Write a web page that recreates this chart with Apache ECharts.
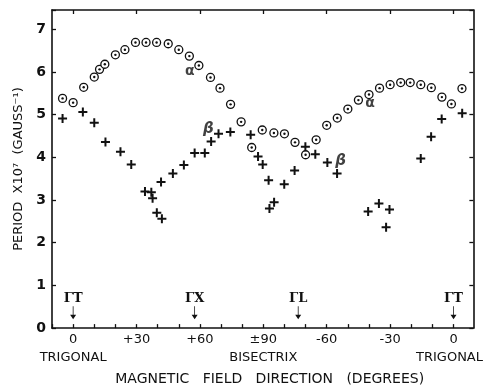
<!DOCTYPE html>
<html lang="en">
<head>
    <meta charset="UTF-8">
    <title>Period vs field direction</title>
    <style>
        html, body { margin: 0; padding: 0; background: #fff; }
    </style>
</head>
<body>
<div id="main" style="width: 494px;height:391px;"></div>

<script src="https://cdn.jsdelivr.net/npm/echarts@6/dist/echarts.min.js"></script>
<script>
    // alpha branch (circles)
    var alphaX = [-5, 0, 5, 10, 12.5, 15, 20, 24.5, 29.5, 34.5, 39.5, 45, 50, 55, 59.5, 65, 69.5, 74.5, 79.5,
        84.5, 89.5, 95, 100, 105, 110, 115, 120, 125, 130, 135, 140, 145, 150, 155, 159.5, 164.5, 169.5, 174.5, 179, 184];
    var alphaY = [5.38, 5.28, 5.64, 5.88, 6.06, 6.18, 6.40, 6.52, 6.69, 6.69, 6.69, 6.66, 6.52, 6.37, 6.15, 5.87, 5.62, 5.24, 4.83,
        4.23, 4.64, 4.57, 4.55, 4.35, 4.06, 4.41, 4.75, 4.92, 5.13, 5.34, 5.47, 5.62, 5.70, 5.75, 5.75, 5.70, 5.63, 5.41, 5.25, 5.61];

    // beta branch (crosses)
    var betaX = [-5, 4.6, 10, 15.3, 22.4, 27.5, 34, 37, 37.6, 39.6, 42, 41.6, 47.2, 52.4, 57.5, 62.3, 65.3, 68.8, 74.4,
        84, 87.5, 89.7, 92.5, 92.9, 95.1, 99.9, 104.8, 109.9, 114.6, 120.3, 124.9, 139.6, 144.7, 149.7, 148.1,
        164.5, 169.4, 174.4, 184.1];
    var betaY = [4.91, 5.06, 4.81, 4.36, 4.13, 3.83, 3.20, 3.18, 3.04, 2.70, 2.56, 3.42, 3.62, 3.82, 4.10, 4.10, 4.37, 4.55, 4.59,
        4.53, 4.02, 3.83, 3.46, 2.80, 2.95, 3.37, 3.69, 4.25, 4.07, 3.88, 3.62, 2.73, 2.92, 2.78, 2.36,
        3.97, 4.48, 4.90, 5.03];

    // tick labels (position 0..180 along the rotation)
    var tickPos = [0, 30, 60, 90, 120, 150, 180];
    var tickText = ['0', '+30', '+60', '\u00b190', '-60', '-30', '0'];
    var tickSub = ['TRIGONAL', '', '', 'BISECTRIX', '', '', 'TRIGONAL'];

    // symmetry directions
    var symX = [0, 57.5, 106.5, 180];
    var symY = [0.36, 0.36, 0.36, 0.36];
    var symText = ['\u0393T', '\u0393X', '\u0393L', '\u0393T'];

    // branch names
    var nameX = [55.2, 140.5, 64, 126.6];
    var nameY = [6.01, 5.27, 4.65, 3.9];
    var nameText = ['\u03b1', '\u03b1', '\u03b2', '\u03b2'];

    function zip(xs, ys) {
        return xs.map(function (x, i) { return [x, ys[i]]; });
    }

    var ink = '#111';
    var font = 'DejaVu Sans';
    var minor = [];
    for (var t = -10; t <= 180; t += 10) minor.push(t);

    var myChart = echarts.init(document.getElementById('main'));
    var option = {
        backgroundColor: '#fff',
        animation: false,
        grid: {left: 52, right: 12, top: 10, bottom: 57},
        xAxis: [{
            type: 'value',
            min: -10,
            max: 189.4,
            position: 'bottom',
            name: 'MAGNETIC   FIELD   DIRECTION   (DEGREES)',
            nameLocation: 'middle',
            nameGap: 41,
            nameTextStyle: {color: ink, fontFamily: font, fontSize: 14, padding: [0, 0, 0, 14]},
            axisLine: {onZero: false, lineStyle: {color: ink, width: 1.6}},
            axisTick: {inside: true, length: 4, customValues: minor, lineStyle: {color: ink, width: 1.3}},
            axisLabel: {
                customValues: tickPos,
                margin: 3,
                color: ink,
                fontFamily: font,
                fontSize: 13,
                lineHeight: 18,
                formatter: function (v) {
                    var i = tickPos.indexOf(Math.round(v));
                    if (i < 0) return '';
                    var s = tickText[i];
                    if (tickSub[i]) s += '\n{' + (i === 6 ? 'r' : 's') + '|' + tickSub[i] + '}';
                    return s;
                },
                rich: {
                    s: {color: ink, fontFamily: font, fontSize: 13, lineHeight: 18},
                    r: {color: ink, fontFamily: font, fontSize: 13, lineHeight: 18, padding: [0, 8, 0, 0]}
                }
            },
            splitLine: {show: false}
        }, {
            type: 'value',
            min: -10,
            max: 189.4,
            position: 'top',
            axisLine: {onZero: false, lineStyle: {color: ink, width: 1.6}},
            axisTick: {inside: true, length: 4, customValues: tickPos, lineStyle: {color: ink, width: 1.3}},
            axisLabel: {show: false},
            splitLine: {show: false}
        }],
        yAxis: [{
            type: 'value',
            min: 0,
            max: 7.45,
            interval: 1,
            position: 'left',
            name: 'PERIOD  X10\u2077  (GAUSS\u207b\u00b9)',
            nameLocation: 'middle',
            nameRotate: 90,
            nameGap: 16,
            nameTextStyle: {color: ink, fontFamily: font, fontSize: 13},
            axisLine: {onZero: false, lineStyle: {color: ink, width: 1.6}},
            axisTick: {inside: true, length: 4, lineStyle: {color: ink, width: 1.3}},
            axisLabel: {
                color: ink, fontFamily: font, fontSize: 14, fontWeight: 'bold', margin: 6,
                formatter: function (v) { return Number.isInteger(v) ? String(v) : ''; }
            },
            splitLine: {show: false}
        }, {
            type: 'value',
            min: 0,
            max: 7.45,
            interval: 1,
            position: 'right',
            axisLine: {onZero: false, lineStyle: {color: ink, width: 1.6}},
            axisTick: {inside: true, length: 4, lineStyle: {color: ink, width: 1.3}},
            axisLabel: {show: false},
            splitLine: {show: false}
        }],
        series: [{
            name: 'alpha',
            type: 'scatter',
            data: zip(alphaX, alphaY),
            symbol: 'circle',
            symbolSize: 8,
            itemStyle: {color: '#fff', borderColor: ink, borderWidth: 1.3, opacity: 1}
        }, {
            name: 'alpha-dot',
            type: 'scatter',
            data: zip(alphaX, alphaY),
            symbol: 'circle',
            symbolSize: 2.4,
            itemStyle: {color: ink, opacity: 1}
        }, {
            name: 'beta',
            type: 'scatter',
            data: zip(betaX, betaY),
            symbol: 'path://M3.5 0h2v3.5h3.5v2h-3.5v3.5h-2v-3.5h-3.5v-2h3.5z',
            symbolSize: 9,
            itemStyle: {color: ink, opacity: 1}
        }, {
            name: 'symmetry',
            type: 'scatter',
            data: zip(symX, symY).map(function (d, i) { return {value: d, name: symText[i]}; }),
            symbol: 'path://M4.5 0h1v11h3.5l-4 6l-4 -6h3.5z',
            symbolSize: [6, 13],
            itemStyle: {color: ink, opacity: 1},
            label: {
                show: true,
                position: 'top',
                distance: 1,
                formatter: '{b}',
                color: ink,
                fontFamily: 'DejaVu Serif',
                fontWeight: 'bold',
                fontSize: 13
            }
        }, {
            name: 'names',
            type: 'scatter',
            data: zip(nameX, nameY).map(function (d, i) { return {value: d, name: nameText[i]}; }),
            symbolSize: 0,
            label: {
                show: true,
                position: 'inside',
                formatter: function (p) {
                    return p.name === '\u03b2' ? '{b|\u03b2}' : '{a|\u03b1}';
                },
                rich: {
                    a: {color: ink, fontFamily: font, fontWeight: 'bold', fontSize: 14},
                    b: {color: ink, fontFamily: font, fontStyle: 'italic', fontWeight: 'bold', fontSize: 15}
                }
            }
        }]
    };
    myChart.setOption(option);
</script>

</body>
</html>
